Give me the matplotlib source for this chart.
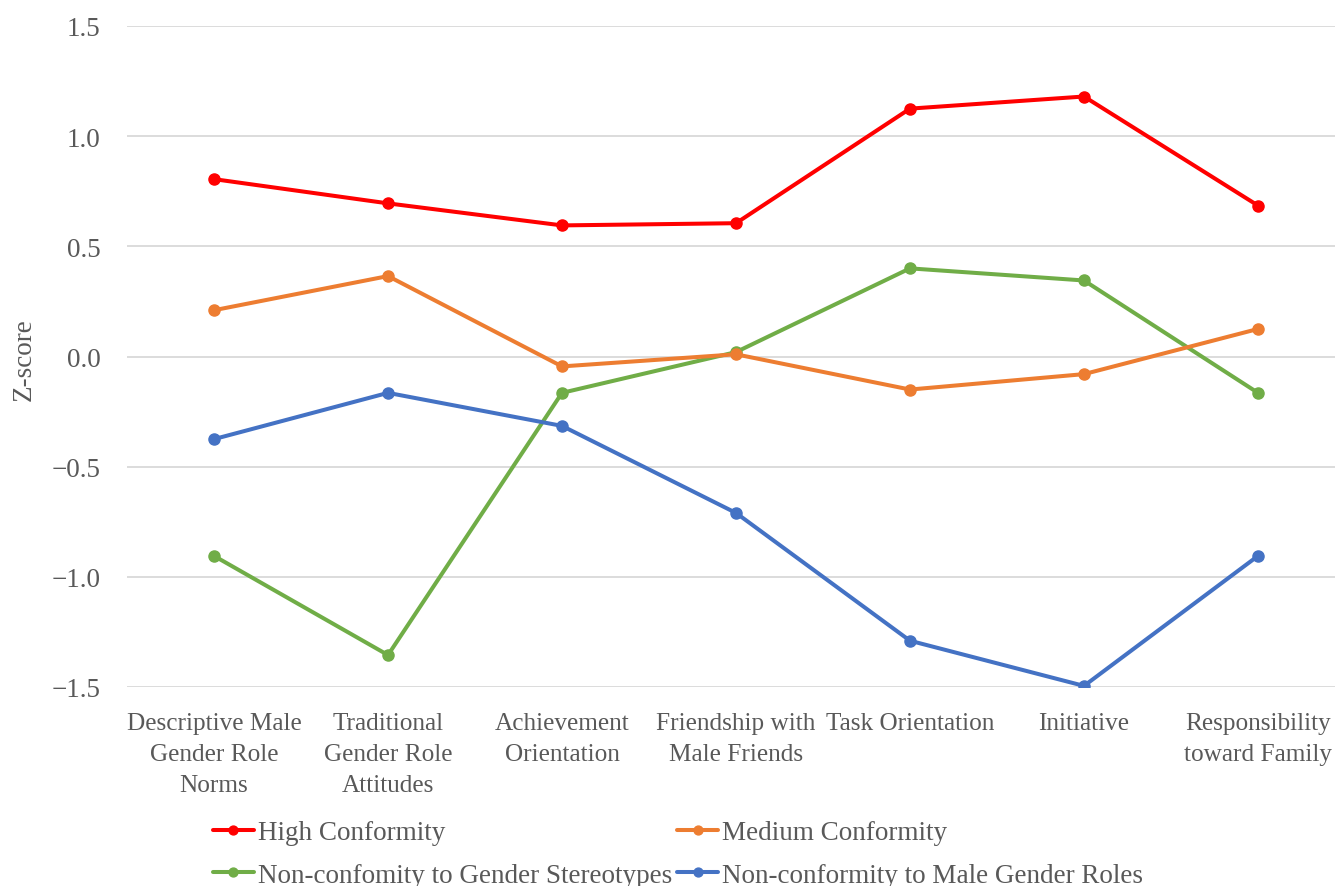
import numpy as np
import matplotlib.pyplot as plt

categories = ["Descriptive Male\nGender Role\nNorms", "Traditional\nGender Role\nAttitudes",
              "Achievement\nOrientation", "Friendship with\nMale Friends", "Task Orientation",
              "Initiative", "Responsibility\ntoward Family"]

high = [0.805, 0.695, 0.595, 0.605, 1.125, 1.18, 0.685]
medium = [0.21, 0.365, -0.045, 0.01, -0.15, -0.08, 0.125]
non_gender = [-0.905, -1.355, -0.165, 0.02, 0.40, 0.345, -0.165]
non_male = [-0.375, -0.165, -0.315, -0.71, -1.29, -1.495, -0.905]

plt.rcParams['font.family'] = ['Liberation Serif', 'DejaVu Serif']
txt = '#595959'

fig = plt.figure(figsize=(13.35, 8.87), dpi=100)
ax = fig.add_axes([127 / 1335, 1 - 688 / 887, 1218 / 1335, 661 / 887])

x = np.arange(len(categories))
series = [("High Conformity", high, '#FF0000'),
          ("Non-confomity to Gender Stereotypes", non_gender, '#70AD47'),
          ("Medium Conformity", medium, '#ED7D31'),
          ("Non-conformity to Male Gender Roles", non_male, '#4472C4')]
lines = {}
for name, vals, col in series:
    lines[name], = ax.plot(x, vals, color=col, lw=2.9, marker='o', ms=8, label=name,
                           solid_capstyle='round')

ax.set_xlim(-0.5, len(categories) - 0.5)
ax.set_ylim(-1.5, 1.5)
ax.set_yticks([-1.5, -1.0, -0.5, 0.0, 0.5, 1.0, 1.5])
ax.set_yticklabels(['\u22121.5', '\u22121.0', '\u22120.5', '0.0', '0.5', '1.0', '1.5'])
ax.set_xticks(x)
ax.set_xticklabels(categories, linespacing=1.52)
ax.grid(axis='y', color='#D9D9D9', lw=1.3)
ax.set_axisbelow(True)
for s in ax.spines.values():
    s.set_visible(False)
ax.tick_params(axis='y', length=0, labelsize=19.5, colors=txt, pad=19)
ax.tick_params(axis='x', length=0, labelsize=18.2, colors=txt, pad=18)
fig.text(24 / 1335, 1 - 360 / 887, "Z-score", rotation=90, ha='center', va='center',
         fontsize=19.5, color=txt)

handles = [lines[s[0]] for s in series]
fig.legend(handles, [s[0] for s in series], ncol=2, frameon=False, fontsize=19.5,
           labelcolor=txt, loc='upper left', bbox_to_anchor=(213 / 1335, 1 - 821 / 887),
           handlelength=1.5, handletextpad=0.15, columnspacing=0.2, labelspacing=0.66,
           borderaxespad=0, borderpad=0, markerscale=0.8)

fig.savefig('out.png', dpi=100)
